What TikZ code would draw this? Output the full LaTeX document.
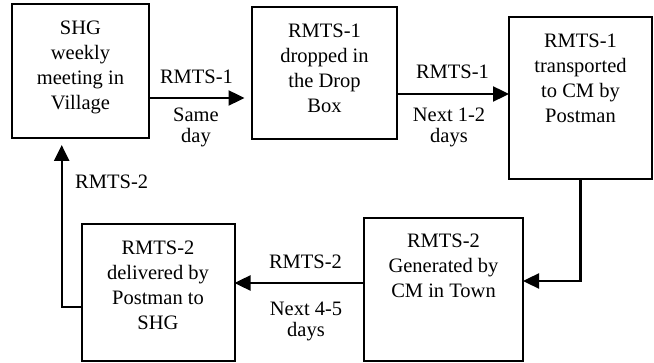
\documentclass[tikz,border=0pt]{standalone}
\usepackage{fontspec}
\setmainfont{Liberation Serif}
\usetikzlibrary{arrows.meta}
\begin{document}
\begin{tikzpicture}[x=1pt,y=-1pt,
  box/.style={draw, line width=2pt, inner sep=0pt, outer sep=0pt},
  boxtext/.style={anchor=north, inner sep=0pt, align=center, font=\fontsize{20.5}{25}\selectfont},
  lab/.style={inner sep=0pt, align=center, font=\fontsize{20.5}{20.5}\selectfont},
  arr/.style={line width=2.4pt, -{Triangle[length=16pt,width=15pt]}}]
\useasboundingbox (0,0) rectangle (654,363);
% boxes
\node[box, minimum width=137pt, minimum height=134pt] (b1) at (80.5,71) {};
\node[box, minimum width=145pt, minimum height=132pt] (b2) at (324.5,73) {};
\node[box, minimum width=143pt, minimum height=162pt] (b3) at (580.5,98) {};
\node[box, minimum width=159pt, minimum height=143pt] (b4) at (443.5,289.5) {};
\node[box, minimum width=153pt, minimum height=137pt] (b5) at (158,292.5) {};
% box texts
\node[boxtext] (t1) at ([yshift=-17pt]b1.north) {SHG\\weekly\\meeting in\\Village};
\node[boxtext] (t2) at ([yshift=-17pt]b2.north) {RMTS-1\\dropped in\\the Drop\\Box};
\node[boxtext] (t3) at ([yshift=-17pt]b3.north) {RMTS-1\\transported\\to CM by\\Postman};
\node[boxtext] (t4) at ([yshift=-16pt]b4.north) {RMTS-2\\Generated by\\CM in Town};
\node[boxtext] (t5) at ([yshift=-17pt]b5.north) {RMTS-2\\delivered by\\Postman to\\SHG};
% connectors
\draw[arr, shorten >=7.5pt] ([yshift=-27pt]b1.east) -- ([yshift=-25pt]b2.west);
\draw[arr] ([yshift=-21pt]b2.east) -- ([yshift=4pt]b3.west);
\draw[arr] (b3.south) |- ([yshift=8.5pt]b4.east);
\draw[arr] ([yshift=6.5pt]b4.west) -- ([yshift=9.5pt]b5.east);
\draw[arr, shorten >=7pt] ([yshift=-14.5pt]b5.west) -| ([xshift=-18.8pt]b1.south);
% connector labels
\node[lab, anchor=base] (l1) at (196.5,84) {RMTS-1};
\node[lab, anchor=north] (l1b) at (196,108) {Same\\day};
\node[lab, anchor=base] (l2) at (452.5,79) {RMTS-1};
\node[lab, anchor=north] (l2b) at (449,108) {Next 1-2\\days};
\node[lab, anchor=base] (l4) at (305.5,268.3) {RMTS-2};
\node[lab, anchor=north] (l4b) at (306,302) {Next 4-5\\days};
\node[lab, anchor=base west] (l5) at (75,188.3) {RMTS-2};
\end{tikzpicture}
\end{document}
